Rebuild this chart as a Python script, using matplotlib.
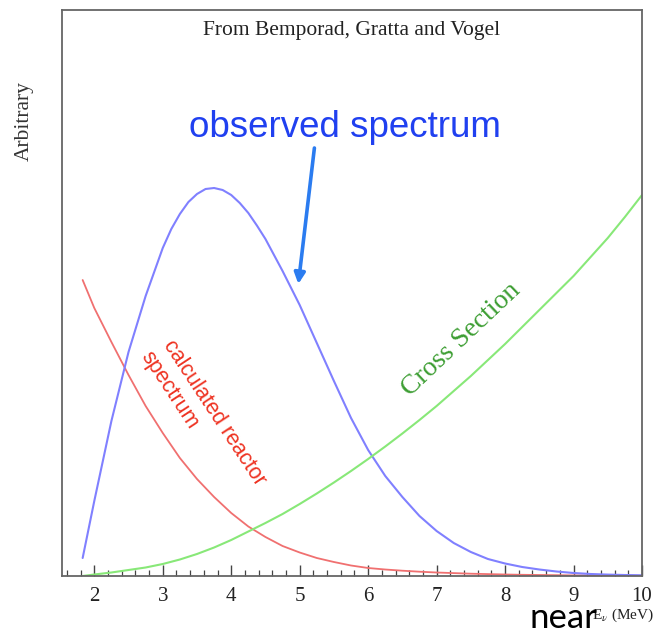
import numpy as np
import matplotlib
matplotlib.use("Agg")
import matplotlib.pyplot as plt
from matplotlib.ticker import MultipleLocator

plt.rcParams["mathtext.fontset"] = "stix"

# Neutrino energy grid (MeV) for the reactor flux and the cross section
energy = [1.83, 2.0, 2.25, 2.5, 2.75, 3.0, 3.25, 3.5, 3.75, 4.0, 4.25, 4.5, 4.75,
          5.0, 5.25, 5.5, 5.75, 6.0, 6.25, 6.5, 6.75, 7.0, 7.25, 7.5, 7.75, 8.0,
          8.25, 8.5, 8.75, 9.0, 9.25, 9.5, 9.75, 10.0]

# Calculated reactor antineutrino flux (arbitrary units)
reactor_flux = [296, 268, 234, 201, 170, 143, 118, 97, 79, 63, 49.5, 39, 30,
                23.5, 18, 14, 10.5, 8, 6.5, 5.3, 4.3, 3.5, 2.9, 2.3, 1.9, 1.5,
                1.2, 1.0, 0.8, 0.6, 0.5, 0.4, 0.3, 0.2]

# Inverse beta decay cross section (arbitrary units)
cross_section = [0, 1.5, 3.5, 6, 8.5, 12, 16.5, 22, 28.5, 36, 44.5, 53, 62,
                 72, 82.5, 93.5, 105, 117, 129.5, 142.5, 156, 170, 185, 200,
                 216, 232, 249, 266, 283, 300, 319, 338, 359, 381]

# Observed (detected) spectrum, sampled more finely around its maximum
energy_obs = [1.83, 2.0, 2.25, 2.5, 2.75, 3.0, 3.125, 3.25, 3.375, 3.5, 3.625,
              3.75, 3.875, 4.0, 4.125, 4.25, 4.375, 4.5, 4.75, 5.0, 5.25, 5.5,
              5.75, 6.0, 6.25, 6.5, 6.75, 7.0, 7.25, 7.5, 7.75, 8.0, 8.25, 8.5,
              8.75, 9.0, 9.25, 9.5, 9.75, 10.0]
observed = [18, 75, 155, 224, 280, 328, 347, 362, 374, 382, 387,
            388, 386, 381, 373, 363, 350.5, 337, 305, 271, 233, 195,
            158, 126, 100, 79, 60, 45, 33, 24, 17, 12.5, 9, 6.5,
            4.5, 3, 2, 1.4, 1.0, 0.7]

x_ticks = [2, 3, 4, 5, 6, 7, 8, 9, 10]
x_ticklabels = ["2", "3", "4", "5", "6", "7", "8", "9", "10"]

W, H = 655, 634
fig = plt.figure(figsize=(W / 100, H / 100), dpi=100)
fig.patch.set_facecolor("white")


def fx(px):
    return px / W


def fy(py):
    return 1 - py / H


ax = fig.add_axes([fx(61.7), fy(576), fx(642) - fx(61.7), fy(10) - fy(576)])

serif = "Liberation Serif"
sans = "Liberation Sans"

ax.plot(energy, reactor_flux, color="#f07070", lw=1.3, solid_capstyle="round",
        solid_joinstyle="round")
ax.plot(energy_obs, observed, color="#8080ff", lw=1.5, solid_capstyle="round",
        solid_joinstyle="round")
ax.plot(energy, cross_section, color="#88e878", lw=1.5, solid_capstyle="round",
        solid_joinstyle="round")

ax.set_xlim(1.524, 10.0)
ax.set_ylim(0, 566)

for s in ax.spines.values():
    s.set_color("#666666")
    s.set_linewidth(1.3)

ax.set_yticks([])
ax.set_xticks(x_ticks)
ax.set_xticklabels(x_ticklabels, fontfamily=serif, fontsize=15)
ax.xaxis.set_minor_locator(MultipleLocator(0.2))
ax.tick_params(axis="x", which="major", direction="in", length=8, width=1.0,
               color="#444444", pad=8, labelcolor="#222222")
ax.tick_params(axis="x", which="minor", direction="in", length=4.3, width=0.9,
               color="#444444")

# Header and axis captions
ax.text(0.5, 0.963, "From Bemporad, Gratta and Vogel", transform=ax.transAxes,
        ha="center", va="center", fontfamily=serif, fontsize=15.5, color="#222222")
fig.text(fx(24), fy(121), "Arbitrary", rotation=90, ha="center", va="center",
         fontfamily=serif, fontsize=15.5, color="#333333")
fig.text(fx(654), fy(619), r"E$_{\nu}$ (MeV)", ha="right", va="baseline",
         fontfamily=serif, fontsize=11, color="#222222")
fig.text(fx(529), fy(628), "near", ha="left", va="baseline",
         fontfamily="Lato", fontsize=25, color="black")

# Curve annotations
ax.text(5.66, 439, "observed spectrum", ha="center", va="baseline",
        fontfamily=sans, fontsize=26.5, color="#2040f0")
ax.annotate("", xy=(4.98, 292), xytext=(5.215, 428),
            arrowprops=dict(arrowstyle="-|>", color="#2b7cf0", lw=2.6,
                            mutation_scale=16, shrinkA=0, shrinkB=0))

ax.text(3.077, 234, "calculated reactor", rotation=-56.6, rotation_mode="anchor",
        ha="left", va="center", fontfamily=sans, fontsize=15.5, color="#ee3322")
ax.text(2.74, 223, "spectrum", rotation=-56.6, rotation_mode="anchor",
        ha="left", va="center", fontfamily=sans, fontsize=15.5, color="#ee3322")

ax.text(6.54, 184, "Cross Section", rotation=43.4, rotation_mode="anchor",
        ha="left", va="center", fontfamily=serif, fontsize=20, color="#3d9e33")

fig.savefig("out.png", dpi=100, facecolor="white")
